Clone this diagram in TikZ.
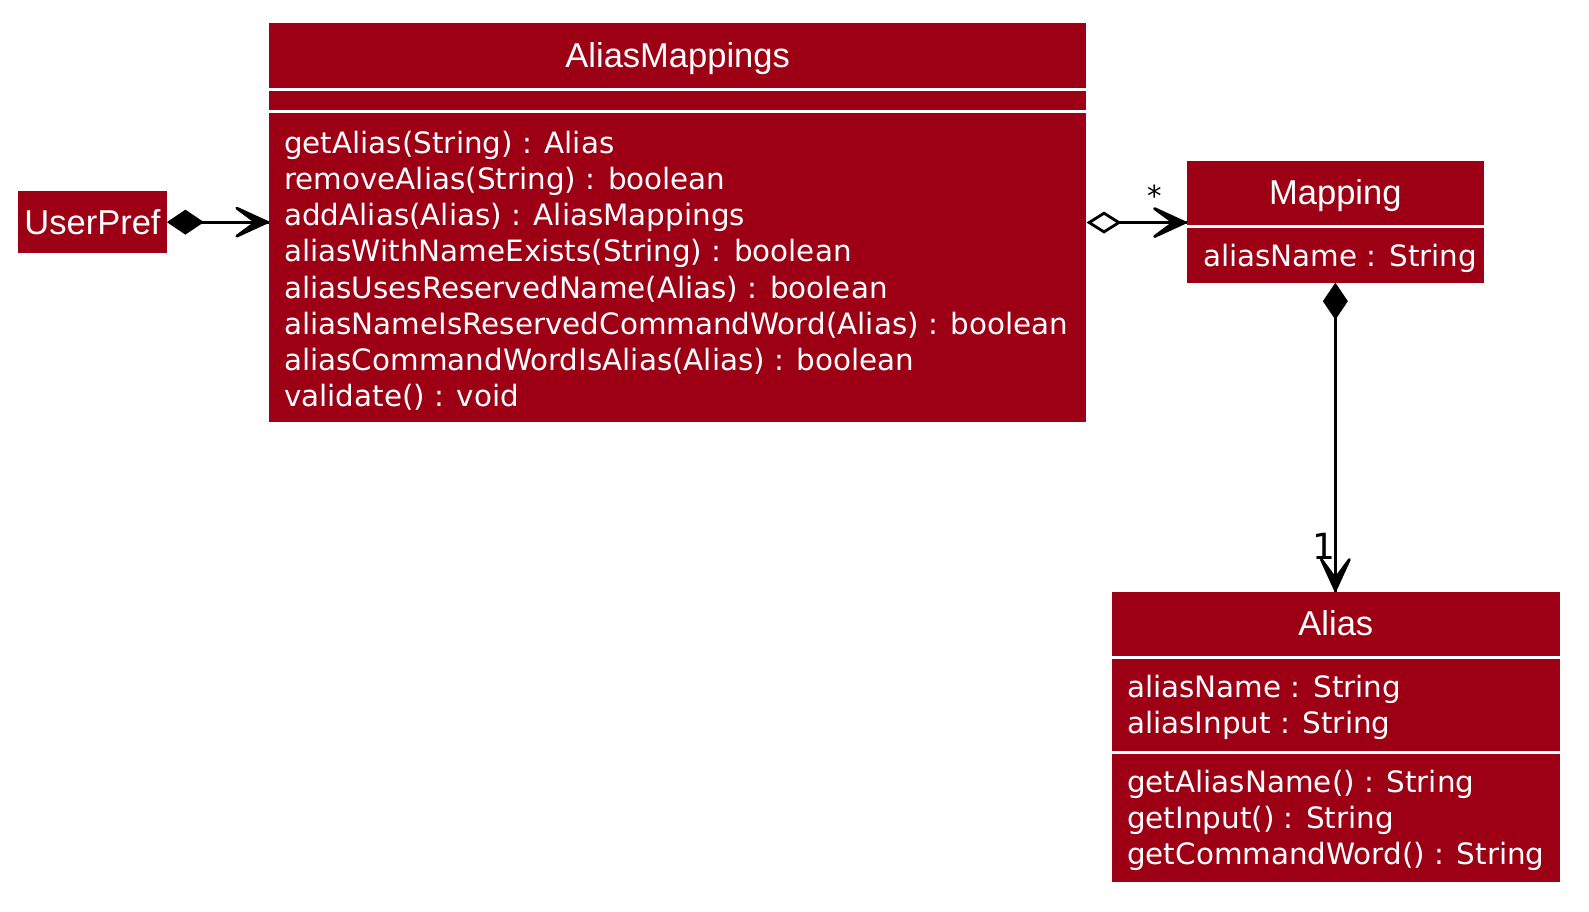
\documentclass[tikz,border=0pt]{standalone}
\usepackage{fontspec}
\setmainfont{DejaVu Sans}
\newfontfamily\titlefont{Liberation Sans}
\usetikzlibrary{arrows.meta}
\usetikzlibrary{decorations.markings}
\definecolor{umlred}{RGB}{157,0,20}
\tikzset{cls/.style = {fill=umlred, inner sep=0}}
\tikzset{ttl/.style = {text=white, inner sep=0, anchor=base,
                       font=\titlefont\fontsize{34.5}{40}\selectfont}}
\tikzset{mbr/.style = {text=white, inner sep=0, anchor=base west,
                       font=\fontsize{29.4}{36}\selectfont}}
\tikzset{sep/.style = {draw=white, line width=3}}
\tikzset{head/.style = {decoration={markings,
                                    mark=at position 1 with {\filldraw [line join=round]
                                      (-1.5, 0) -- (-32, 14) -- (-13, 0) -- (-32, -14) -- cycle;}},
                        postaction={decorate}}}
\tikzset{comp/.style = {line width=2.8, head,
                        arrows={Diamond[length=37pt, width=25pt]-}}}
\tikzset{aggr/.style = {line width=2.8, head,
                        arrows={Diamond[open, fill=white, length=35pt, width=22pt]-}}}

\begin{document}
\begin{tikzpicture}[x=1pt, y=-1pt]
  \useasboundingbox (0, 0) rectangle (1589, 911);

  % UserPref
  \node [cls, minimum width=148.4, minimum height=62.3] (usrpref) at (92.5, 222.15) {};
  \node [ttl] (usrpreft) at (92.5, 234) {UserPref};

  % AliasMappings
  \node [cls, minimum width=817.3, minimum height=398.3] (amap) at (677.65, 222.55) {};
  \node [ttl] (amapt) at (677.65, 67.3) {AliasMappings};
  \draw [sep] (amap.west |- 0, 89.3) -- (amap.east |- 0, 89.3);
  \draw [sep] (amap.west |- 0, 111.3) -- (amap.east |- 0, 111.3);
  \foreach \t [count=\i] in {getAlias(String) : Alias,
                             removeAlias(String) : boolean,
                             addAlias(Alias) : AliasMappings,
                             aliasWithNameExists(String) : boolean,
                             aliasUsesReservedName(Alias) : boolean,
                             aliasNameIsReservedCommandWord(Alias) : boolean,
                             aliasCommandWordIsAlias(Alias) : boolean,
                             validate() : void}
    \node [mbr] (amop\i) at (284, 117.1 + 36.2*\i) {\t};

  % Mapping
  \node [cls, minimum width=297.3, minimum height=121.5] (map) at (1335.35, 221.75) {};
  \node [ttl] (mapt) at (1335.35, 204.5) {Mapping};
  \draw [sep] (map.west |- 0, 226) -- (map.east |- 0, 226);
  \node [mbr] (mapat) at (1203, 266.7) {aliasName : String};

  % Alias
  \node [cls, minimum width=448.3, minimum height=290] (alias) at (1335.85, 736.7) {};
  \node [ttl] (aliast) at (1335.85, 635) {Alias};
  \draw [sep] (alias.west |- 0, 657.3) -- (alias.east |- 0, 657.3);
  \draw [sep] (alias.west |- 0, 752.3) -- (alias.east |- 0, 752.3);
  \node [mbr] (aliasat1) at (1127, 697) {aliasName : String};
  \node [mbr] (aliasat2) at (1127, 733) {aliasInput : String};
  \foreach \t [count=\i] in {getAliasName() : String,
                             getInput() : String,
                             getCommandWord() : String}
    \node [mbr] (aliasop\i) at (1127, 755.7 + 36.3*\i) {\t};

  % links
  \draw [comp] (usrpref.east) -- (usrpref.east -| amap.west);
  \draw [aggr] (amap.east) -- (amap.east -| map.west);
  \draw [comp] (map.south) -- (map.south |- alias.north);
  \node [font=\fontsize{29}{30}\selectfont] (star) at (1155, 196) {*};
  \node [font=\fontsize{36}{40}\selectfont] (one) at (1323.5, 546.5) {1};
\end{tikzpicture}
\end{document}
